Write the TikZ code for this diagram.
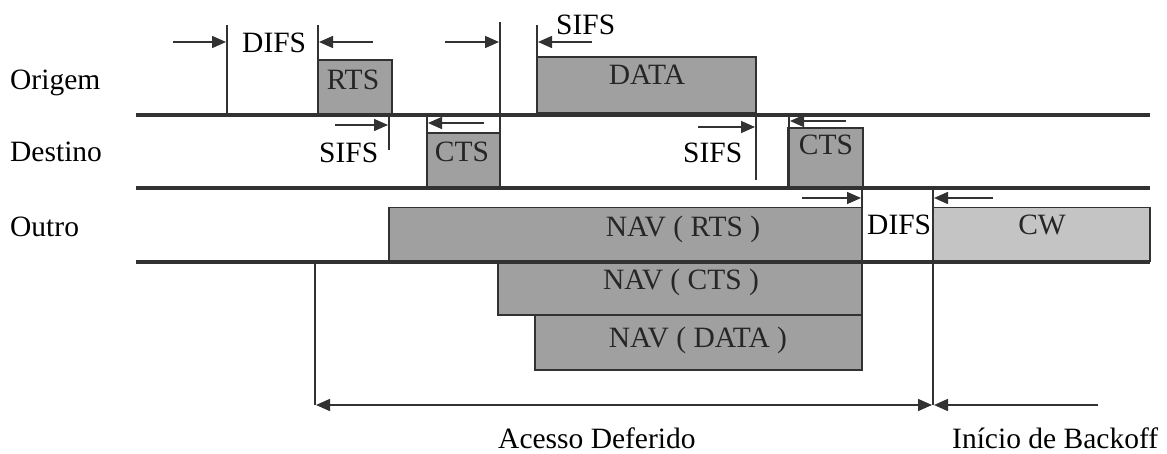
\documentclass[tikz,border=0pt]{standalone}
\usepackage{fontspec}
\setmainfont{Liberation Serif}
\usetikzlibrary{arrows.meta}
\definecolor{boxgray}{RGB}{160,160,160}
\definecolor{cwgray}{RGB}{196,196,196}
\definecolor{linegray}{RGB}{50,50,50}
\begin{document}
\begin{tikzpicture}[x=1pt,y=-1pt,
  txt/.style={font=\fontsize{29.5}{30}\selectfont, inner sep=0pt, text=black},
  boxtxt/.style={txt, text=black!85, anchor=base},
  slot/.style={draw=linegray, line width=1.4pt, fill=boxgray, inner sep=0pt},
  timeline/.style={draw=linegray, line width=4.2pt},
  marker/.style={draw=linegray, line width=2.8pt},
  tick/.style={draw=linegray, line width=1.6pt, -{Triangle[length=14pt,width=12pt]}},
  tick2/.style={draw=linegray, line width=1.6pt, {Triangle[length=14pt,width=12pt]}-{Triangle[length=14pt,width=12pt]}}]
\useasboundingbox (0,0) rectangle (1167,454);
\fill[white] (0,0) rectangle (1167,454);

% row labels
\node[txt, anchor=base west] (lorig) at (10,90) {Origem};
\node[txt, anchor=base west] (ldest) at (10,162) {Destino};
\node[txt, anchor=base west] (loutr) at (10,237) {Outro};

% boxes
\node[slot, minimum width=74pt, minimum height=55pt] (rts) at (355,87.5) {};
\node[slot, minimum width=74pt, minimum height=54pt] (cts1) at (463.5,160) {};
\node[slot, minimum width=219pt, minimum height=56pt] (data) at (646.5,85) {};
\node[slot, minimum width=75pt, minimum height=59pt] (cts2) at (825.5,157.5) {};
\node[slot, minimum width=473pt, minimum height=54pt] (navrts) at (625.5,234.5) {};
\node[slot, fill=cwgray, minimum width=217pt, minimum height=54pt] (cw) at (1041.5,234.5) {};
\node[slot, minimum width=364pt, minimum height=53pt] (navcts) at (680,288.5) {};
\node[slot, minimum width=327pt, minimum height=55pt] (navdata) at (698.5,342.5) {};

% box texts
\node[boxtxt] (trts) at (353,90) {RTS};
\node[boxtxt] (tcts1) at (462,162) {CTS};
\node[boxtxt] (tdata) at (647,85) {DATA};
\node[boxtxt] (tcts2) at (826,155) {CTS};
\node[boxtxt] (tnavrts) at (683,237) {NAV ( RTS )};
\node[boxtxt] (tcw) at (1042,235) {CW};
\node[boxtxt] (tnavcts) at (681,290) {NAV ( CTS )};
\node[boxtxt] (tnavdata) at (698,347) {NAV ( DATA )};

% timelines
\coordinate (o0) at (136,115); \coordinate (o1) at (1150,115);
\coordinate (d0) at (136,188); \coordinate (d1) at (1150,188);
\coordinate (u0) at (136,262); \coordinate (u1) at (1150,262);
\draw[timeline] (o0) -- (o1);
\draw[timeline] (d0) -- (d1);
\draw[timeline] (u0) -- (u1);

% vertical markers
\coordinate (v1a) at (227,25);  \coordinate (v1b) at (227,115);
\coordinate (v2a) at (318,25);  \coordinate (v2b) at (318,115);
\coordinate (v3a) at (500,22);  \coordinate (v3b) at (500,188);
\coordinate (v4a) at (537,25);  \coordinate (v4b) at (537,115);
\coordinate (v5a) at (389,115); \coordinate (v5b) at (389,150);
\coordinate (v6a) at (427,115); \coordinate (v6b) at (427,188);
\coordinate (v7a) at (756,115); \coordinate (v7b) at (756,180);
\coordinate (v8a) at (789,115); \coordinate (v8b) at (789,188);
\coordinate (v9a) at (862,188); \coordinate (v9b) at (862,262);
\coordinate (vAa) at (933,188); \coordinate (vAb) at (933,405);
\coordinate (vBa) at (315,262); \coordinate (vBb) at (315,405);
\foreach \v in {1,2,3,4,5,6,7,8,9,A,B}
  \draw[marker] (v\v a) -- (v\v b);

% arrows
\coordinate (a1s) at (173,42);  \coordinate (a1e) at (226,42);
\coordinate (a2s) at (373,42);  \coordinate (a2e) at (319,42);
\coordinate (a3s) at (445,42);  \coordinate (a3e) at (499,42);
\coordinate (a4s) at (592,42);  \coordinate (a4e) at (538,42);
\coordinate (a5s) at (335,125); \coordinate (a5e) at (388,125);
\coordinate (a6s) at (484,123); \coordinate (a6e) at (428,123);
\coordinate (a7s) at (698,127); \coordinate (a7e) at (755,127);
\coordinate (a8s) at (846,121); \coordinate (a8e) at (790,121);
\coordinate (a9s) at (802,198); \coordinate (a9e) at (861,198);
\coordinate (aAs) at (993,198); \coordinate (aAe) at (934,198);
\coordinate (aBs) at (1098,405); \coordinate (aBe) at (934,405);
\coordinate (aCs) at (316,405); \coordinate (aCe) at (932,405);
\foreach \a in {1,2,3,4,5,6,7,8,9,A,B}
  \draw[tick] (a\a s) -- (a\a e);
\draw[tick2] (aCs) -- (aCe);
\draw[draw=linegray, line width=1.4pt] (cts1.north west) -- (cts1.north east);

% interval labels
\node[txt, anchor=base west] (difs1) at (242,53) {DIFS};
\node[txt, anchor=base west] (sifs1) at (319,163) {SIFS};
\node[txt, anchor=base west] (sifs2) at (556,35) {SIFS};
\node[txt, anchor=base west] (sifs3) at (683,163) {SIFS};
\node[txt, anchor=base west] (difs2) at (867,235) {DIFS};
\node[txt, anchor=base west] (acesso) at (498,448) {Acesso Deferido};
\node[txt, anchor=base west] (inicio) at (952,448) {Início de Backoff};
\end{tikzpicture}
\end{document}
